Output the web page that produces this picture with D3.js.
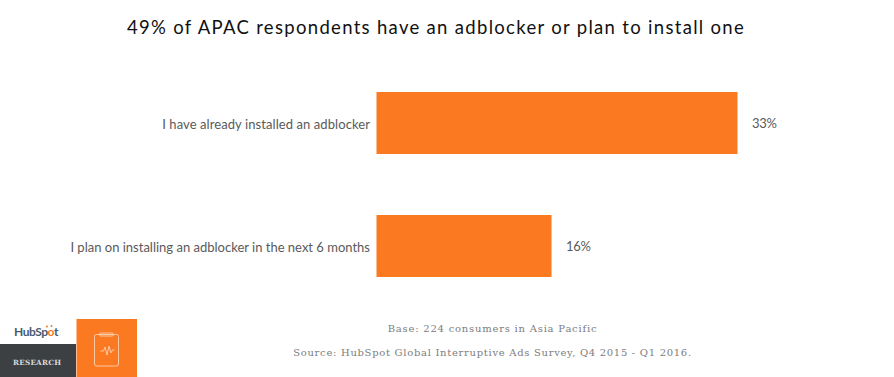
<!DOCTYPE html>
<html><head><meta charset="utf-8">
<script src="https://cdn.jsdelivr.net/npm/d3@7"></script>
<style>html,body{margin:0;padding:0;background:#fff}svg{display:block}</style>
</head><body><svg id="c" width="894" height="377"></svg>
<script>
const title = "49% of APAC respondents have an adblocker or plan to install one";
const categories = ["I have already installed an adblocker","I plan on installing an adblocker in the next 6 months"];
const values = [33,16];
const notes = ["Base: 224 consumers in Asia Pacific","Source: HubSpot Global Interruptive Ads Survey, Q4 2015 - Q1 2016."];
const svg = d3.select("#c");
const sans = "Lato, 'Open Sans', sans-serif", serif = "'DejaVu Serif', serif";
const x = d3.scaleLinear().domain([0,33]).range([376.5,737.5]);
const bh = 62;
const yc = d3.scaleOrdinal().domain(categories).range([123,246]);
svg.append("text").attr("x",436).attr("y",34).attr("text-anchor","middle")
 .attr("font-family",sans).attr("font-size",18.5).attr("letter-spacing",1.31).attr("fill","#111").text(title);
svg.selectAll("rect.bar").data(categories).join("rect").attr("class","bar")
 .attr("x",x(0)).attr("y",d=>yc(d)-bh/2).attr("width",(d,i)=>x(values[i])-x(0)).attr("height",bh).attr("fill","#fb7921");
svg.selectAll("text.cat").data(categories).join("text").attr("class","cat")
 .attr("x",370).attr("y",d=>yc(d)+5.5).attr("text-anchor","end")
 .attr("font-family",sans).attr("font-size",13).attr("letter-spacing",(d,i)=>i?0:0.08).attr("fill","#5a5a5a").text(d=>d);
svg.selectAll("text.val").data(categories).join("text").attr("class","val")
 .attr("x",(d,i)=>x(values[i])+14.5).attr("y",d=>yc(d)+5)
 .attr("font-family",sans).attr("font-size",13).attr("letter-spacing",-0.3).attr("fill","#5a5a5a").text((d,i)=>values[i]+"%");
svg.selectAll("text.note").data(notes).join("text").attr("class","note")
 .attr("x",492.5).attr("y",(d,i)=>i?356:332).attr("text-anchor","middle")
 .attr("font-family",serif).attr("font-size",10).attr("letter-spacing",(d,i)=>i?0.7:0.78).attr("fill","#7d7d7d").text(d=>d);
// footer logo
svg.append("rect").attr("x",0).attr("y",344).attr("width",76).attr("height",33).attr("fill","#3c4043");
svg.append("rect").attr("x",76.5).attr("y",319).attr("width",60.5).attr("height",58).attr("fill","#fb7921");
const logo = svg.append("text").attr("x",14).attr("y",336).attr("font-family",sans).attr("font-size",12).attr("font-weight",700).attr("letter-spacing",-0.45).attr("fill","#4a5a6e");
logo.append("tspan").text("HubSp");
logo.append("tspan").attr("fill","#f57722").text("o");
logo.append("tspan").text("t");
svg.append("circle").attr("cx",47).attr("cy",326.5).attr("r",1).attr("fill","#f57722");
svg.append("circle").attr("cx",51.5).attr("cy",326).attr("r",1).attr("fill","#f57722");
svg.append("text").attr("x",13).attr("y",365).attr("font-family",serif).attr("font-size",7.2).attr("font-weight",700).attr("letter-spacing",0.25).attr("fill","#d8d8d8").text("RESEARCH");
const ic = svg.append("g").attr("fill","none").attr("stroke","#fdc9a5").attr("stroke-width",1);
ic.append("rect").attr("x",94.5).attr("y",334.5).attr("width",24).attr("height",31.5).attr("rx",2);
ic.append("rect").attr("x",99.5).attr("y",333).attr("width",14).attr("height",3).attr("rx",1.5);
ic.append("path").attr("d","M100.5 351h3l1.5-4 2 8 2-9 2 7 1.5-3h2");
</script></body></html>
